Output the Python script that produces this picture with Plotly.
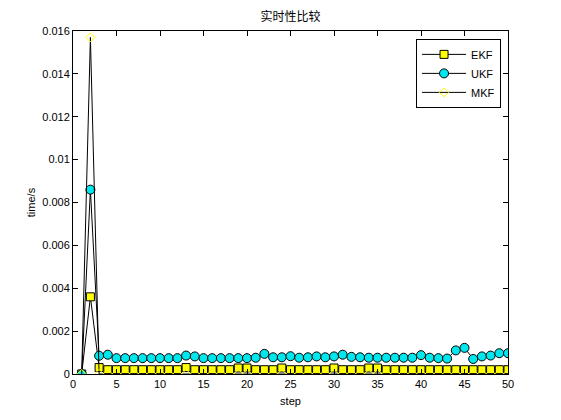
import plotly.graph_objects as go

# step number, 1..50
steps = list(range(1, 51))

# EKF run time per step (s)
ekf = [0, 0.0036, 0.0003, 0.0002, 0.0002, 0.0002, 0.0002, 0.0002, 0.0002, 0.0002,
       0.0002, 0.0002, 0.0003, 0.0002, 0.0002, 0.0002, 0.0002, 0.0002, 0.00028, 0.00028,
       0.0002, 0.0002, 0.0002, 0.00028, 0.0002, 0.0002, 0.0002, 0.0002, 0.0002, 0.00028,
       0.0002, 0.0002, 0.0002, 0.00028, 0.00028, 0.0002, 0.0002, 0.0002, 0.0002, 0.0002,
       0.0002, 0.0002, 0.0002, 0.0002, 0.0002, 0.0002, 0.0002, 0.0002, 0.0002, 0.0002]

# UKF run time per step (s)
ukf = [0, 0.0086, 0.00085, 0.0009, 0.00074, 0.00074, 0.00074, 0.00074, 0.00074, 0.00074,
       0.00074, 0.00074, 0.00086, 0.00082, 0.00074, 0.00074, 0.00074, 0.00074, 0.00074, 0.00074,
       0.00076, 0.00094, 0.00078, 0.00078, 0.00083, 0.00076, 0.00078, 0.00082, 0.00078, 0.00082,
       0.0009, 0.0008, 0.00078, 0.00076, 0.00076, 0.00076, 0.00076, 0.00076, 0.00076, 0.00088,
       0.00076, 0.00074, 0.00072, 0.0011, 0.00122, 0.0007, 0.00082, 0.00086, 0.00097, 0.00097]

# MKF run time per step (s)
mkf = [0, 0.0157] + [0] * 48

fig = go.Figure()
fig.add_trace(go.Scatter(x=steps, y=ekf, mode="lines+markers", name="EKF",
                         line=dict(color="black", width=1),
                         marker=dict(symbol="square", size=8, color="yellow",
                                     line=dict(color="black", width=1))))
fig.add_trace(go.Scatter(x=steps, y=ukf, mode="lines+markers", name="UKF",
                         line=dict(color="black", width=1),
                         marker=dict(symbol="circle", size=9, color="#00e8ee",
                                     line=dict(color="black", width=1))))
fig.add_trace(go.Scatter(x=steps, y=mkf, mode="lines+markers", name="MKF",
                         line=dict(color="black", width=1),
                         marker=dict(symbol="diamond-open", size=7, color="yellow",
                                     line=dict(color="yellow", width=1))))

axis_common = dict(showgrid=False, zeroline=False, showline=True, linecolor="black",
                   linewidth=1, mirror="ticks", ticks="inside", ticklen=5,
                   tickcolor="black", tickfont=dict(size=11, color="black"))

# page body adds an 8px offset, so margins are shifted left/up by 8
fig.update_layout(
    width=561, height=420,
    paper_bgcolor="white", plot_bgcolor="white",
    font=dict(family="Liberation Sans, Arial, sans-serif", size=11, color="black"),
    title=dict(text="实时性比较", x=0.5, xref="paper", xanchor="center",
               y=0.979, yanchor="middle",
               font=dict(family="Noto Sans CJK SC", size=12, color="black")),
    margin=dict(l=65, r=61, t=23, b=54),
    xaxis=dict(range=[0, 50], tickvals=list(range(0, 51, 5)),
               title=dict(text="step", standoff=8, font=dict(size=11)), **axis_common),
    yaxis=dict(range=[0, 0.016], tickvals=[i * 0.002 for i in range(9)],
               ticktext=["0", "0.002", "0.004", "0.006", "0.008", "0.01", "0.012", "0.014", "0.016"],
               title=dict(text="time/s", standoff=4, font=dict(size=11)), **axis_common),
    showlegend=True,
    legend=dict(x=0.984, y=0.977, xanchor="right", yanchor="top",
                bordercolor="black", borderwidth=1, bgcolor="white",
                font=dict(size=11), tracegroupgap=0, itemwidth=44),
)

fig.write_html("out.html")
